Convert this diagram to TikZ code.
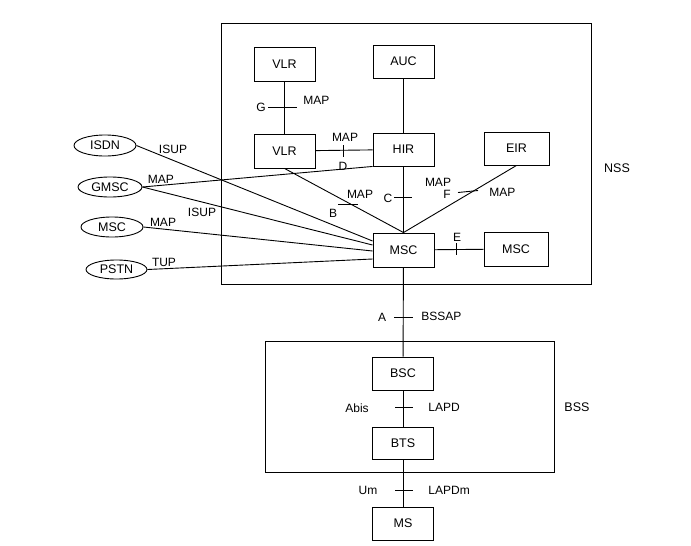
\documentclass[tikz,border=0pt]{standalone}
\usepackage{fontspec}
\setmainfont{Liberation Sans}
\usetikzlibrary{shapes.geometric}
\begin{document}
\begin{tikzpicture}[x=1pt,y=-1pt,line width=0.9pt,
  box/.style={draw,minimum width=61pt,minimum height=34pt,inner sep=0pt,font=\fontsize{12.5}{13}\selectfont},
  ell/.style={draw,ellipse,minimum width=62pt,minimum height=20pt,inner sep=0pt,font=\fontsize{12.5}{13}\selectfont},
  lbl/.style={font=\fontsize{12}{13}\selectfont,inner sep=0pt}]
\useasboundingbox (0,0) rectangle (691,546);
% frames
\draw (221,23) rectangle (591,284);
\draw (265,341) rectangle (554,472);
\node[lbl,font=\fontsize{12.5}{13}\selectfont] (nss) at (617,168) {NSS};
\node[lbl,font=\fontsize{12.5}{13}\selectfont] (bss) at (577,407) {BSS};
% boxes
\node[box] (vlr1) at (284.5,64) {VLR};
\node[box,minimum height=33pt] (auc) at (403.5,61.5) {AUC};
\node[box] (vlr2) at (284.5,151) {VLR};
\node[box,minimum height=33pt] (hir) at (403.5,149.5) {HIR};
\node[box,minimum width=65pt,minimum height=33pt] (eir) at (516.5,148.5) {EIR};
\node[box] (msc) at (403.5,250) {MSC};
\node[box,minimum width=64pt] (msc2) at (516,249) {MSC};
\node[box,minimum height=33pt] (bsc) at (403,373.5) {BSC};
\node[box,minimum height=32pt] (bts) at (403,443) {BTS};
\node[box,minimum height=33pt] (ms) at (403,523.5) {MS};
% ellipses
\node[ell,minimum height=21pt] (isdn) at (105,145.5) {ISDN};
\node[ell,minimum width=64pt] (gmsc) at (110,187) {GMSC};
\node[ell] (mscl) at (112,227) {MSC};
\node[ell,minimum width=61pt,minimum height=19pt] (pstn) at (116.5,269.5) {PSTN};
% connectors
\draw (vlr1) -- (vlr2);
\draw (auc) -- (hir);
\draw (vlr2) -- (hir);
\draw (hir) -- (msc);
\draw (vlr2.south) -- (msc.north);
\draw (eir.south) -- (msc.north);
\draw (msc) -- (msc2);
\draw (msc) -- (bsc);
\draw (bsc) -- (bts);
\draw (bts) -- (ms);
\draw (isdn.east) -- ([yshift=9pt]msc.west);
\draw (gmsc.east) -- (hir.south west);
\draw (gmsc.east) -- ([yshift=5pt]msc.west);
\draw (mscl.east) -- ([yshift=-1pt]msc.west);
\draw (pstn.east) -- ([yshift=-9pt]msc.west);
% interface ticks
\draw (268,107) -- (297,107);
\draw (343,145) -- (343,157);
\draw (394,197) -- (412,197);
\draw (338,204) -- (358,204);
\draw (458,192.5) -- (478,190.5);
\draw (456,243) -- (456,255);
\draw (394,317) -- (413,317);
\draw (395,407) -- (413,407);
\draw (395,490) -- (413,490);
% labels
\node[lbl] (lg) at (261,107) {G};
\node[lbl,anchor=west] (lgm) at (303,100) {MAP};
\node[lbl] (ldm) at (345,137) {MAP};
\node[lbl] (ld) at (343,166) {D};
\node[lbl] (lc) at (388,198) {C};
\node[lbl] (lbm) at (360,194) {MAP};
\node[lbl] (lb) at (333,213) {B};
\node[lbl] (lfm1) at (438,182) {MAP};
\node[lbl] (lf) at (447,194) {F};
\node[lbl,anchor=west] (lfm2) at (489,192) {MAP};
\node[lbl] (le) at (457,237) {E};
\node[lbl] (la) at (382,317) {A};
\node[lbl,anchor=west] (lbssap) at (421,316) {BSSAP};
\node[lbl] (labis) at (357,408) {Abis};
\node[lbl,anchor=west] (llapd) at (428,407) {LAPD};
\node[lbl] (lum) at (368,490) {Um};
\node[lbl,anchor=west] (llapdm) at (428,490) {LAPDm};
\node[lbl] (li1) at (173,149) {ISUP};
\node[lbl] (lgmap) at (161,179) {MAP};
\node[lbl] (li2) at (202,212) {ISUP};
\node[lbl] (lmmap) at (163,222) {MAP};
\node[lbl] (ltup) at (164,262) {TUP};
\end{tikzpicture}
\end{document}
